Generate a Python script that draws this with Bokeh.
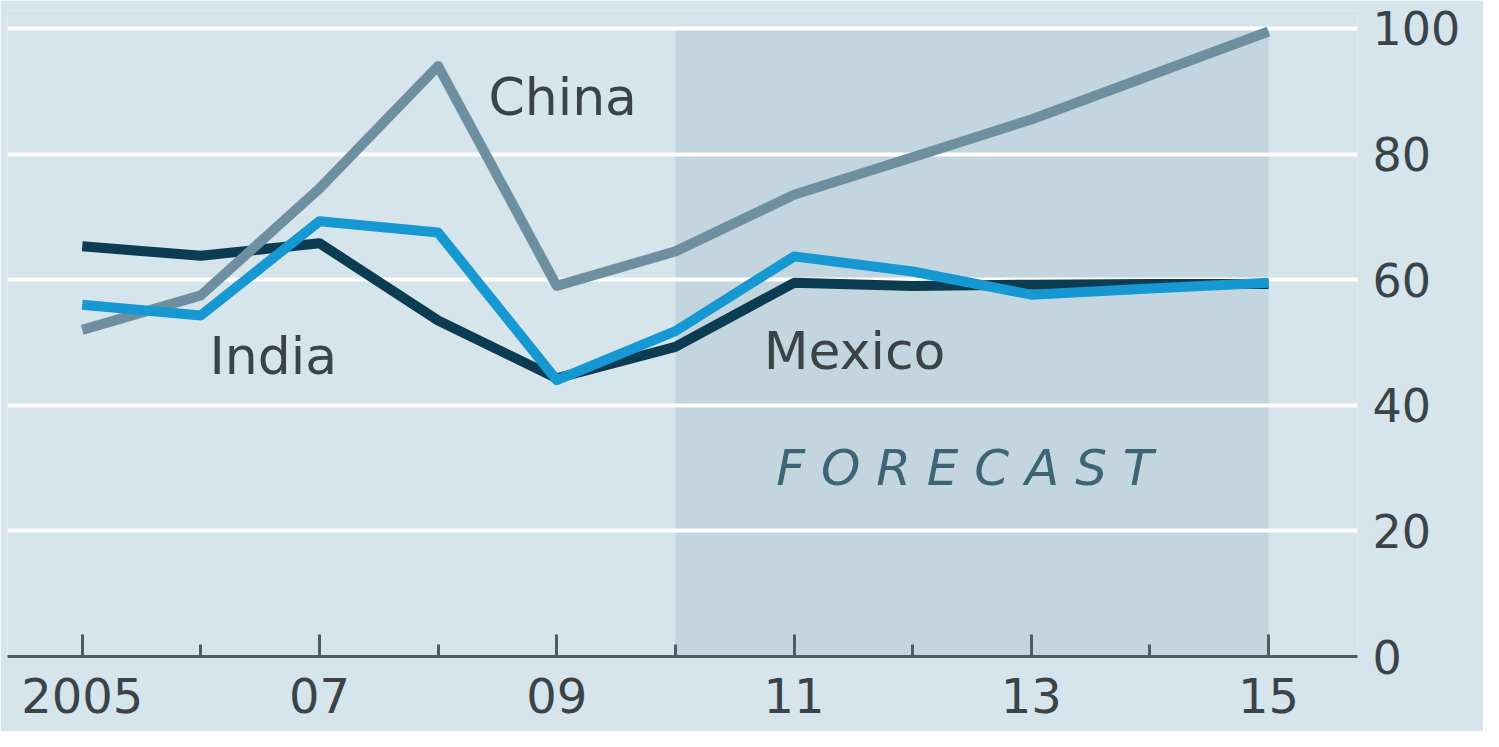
from bokeh.plotting import figure
from bokeh.models import Range1d, FixedTicker
from bokeh.core.properties import value
from bokeh.embed import file_html
from bokeh.resources import INLINE

# ---- data ----
years = [2005, 2006, 2007, 2008, 2009, 2010, 2011, 2012, 2013, 2014, 2015]
china = [52.0, 57.5, 74.5, 94.0, 59.0, 64.5, 73.5, 79.5, 85.5, 92.5, 99.5]
india = [65.3, 63.8, 65.8, 53.5, 44.3, 49.3, 59.5, 59.0, 59.2, 59.3, 59.3]
mexico = [56.0, 54.3, 69.3, 67.5, 44.0, 51.8, 63.7, 61.3, 57.6, 58.6, 59.5]

x_major_ticks = [2005, 2007, 2009, 2011, 2013, 2015]
x_minor_ticks = [2006, 2008, 2010, 2012, 2014]
x_tick_labels = ["2005", "07", "09", "11", "13", "15"]
y_ticks = [0, 20, 40, 60, 80, 100]
y_tick_labels = ["0", "20", "40", "60", "80", "100"]

forecast_start = [2010]
forecast_end = [2015]
forecast_top = [100]
forecast_bottom = [0]

series_labels = ["China", "India", "Mexico"]
series_label_x = [2009.05, 2006.61, 2011.51]
series_label_y = [89.1, 47.9, 48.6]
forecast_label = ["F O R E C A S T"]
forecast_label_x = [2012.44]
forecast_label_y = [30.0]

# ---- style ----
BG = "#d6e4eb"
SHADE = "#c3d6df"
AXIS = "#4d5b62"
TEXT = "#3a4347"
C_CHINA = "#6e8fa0"
C_INDIA = "#0c3c52"
C_MEXICO = "#1698d2"
FONT = "DejaVu Sans"

p = figure(width=1483, height=731, output_backend="svg", toolbar_location=None,
           x_range=Range1d(2004.37, 2015.75), y_range=Range1d(0, 102.85),
           y_axis_location="right",
           min_border_left=7, min_border_right=126, min_border_top=10, min_border_bottom=75)
p.background_fill_color = BG
p.border_fill_color = BG
p.outline_line_color = None

# forecast shading (below grid)
p.quad(left=forecast_start, right=forecast_end, top=forecast_top, bottom=forecast_bottom,
       fill_color=SHADE, line_color=None, level="image")

# grid
p.xgrid.visible = False
p.ygrid.ticker = FixedTicker(ticks=y_ticks)
p.ygrid.grid_line_color = "white"
p.ygrid.grid_line_width = 4

# x axis
xa = p.xaxis[0]
xa.ticker = FixedTicker(ticks=x_major_ticks, minor_ticks=x_minor_ticks)
xa.major_label_overrides = {t: l for t, l in zip(x_major_ticks, x_tick_labels)}
xa.axis_line_color = AXIS
xa.axis_line_width = 3
xa.major_tick_in = 22
xa.major_tick_out = 0
xa.minor_tick_in = 12
xa.minor_tick_out = 0
xa.major_tick_line_color = AXIS
xa.minor_tick_line_color = AXIS
xa.major_tick_line_width = 3
xa.minor_tick_line_width = 3
xa.major_label_text_font = FONT
xa.major_label_text_font_size = "48px"
xa.major_label_text_color = TEXT
xa.major_label_standoff = 21

# y axis (right)
ya = p.yaxis[0]
ya.ticker = FixedTicker(ticks=y_ticks)
ya.major_label_overrides = {t: l for t, l in zip(y_ticks, y_tick_labels)}
ya.axis_line_color = None
ya.major_tick_line_color = None
ya.minor_tick_line_color = None
ya.major_tick_in = 0
ya.major_tick_out = 0
ya.major_label_text_font = FONT
ya.major_label_text_font_size = "46px"
ya.major_label_text_color = TEXT
ya.major_label_standoff = 15

# lines
p.line(years, india, line_color=C_INDIA, line_width=10, line_join="round")
p.line(years, china, line_color=C_CHINA, line_width=10, line_join="round")
p.line(years, mexico, line_color=C_MEXICO, line_width=10, line_join="round")

# labels
p.text(x=series_label_x, y=series_label_y, text=series_labels,
       text_font=value(FONT), text_font_size="52px", text_color=TEXT,
       text_align="center", text_baseline="middle")
p.text(x=forecast_label_x, y=forecast_label_y, text=forecast_label,
       text_font=value(FONT), text_font_size="50px", text_font_style="italic",
       text_color="#3d6576", text_align="center", text_baseline="middle")

open("out.html", "w").write(file_html(p, INLINE))
